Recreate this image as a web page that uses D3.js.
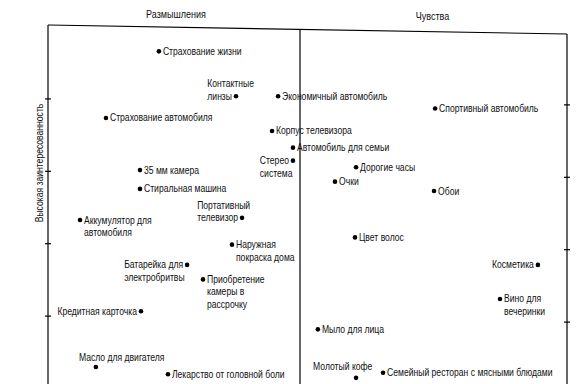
<!DOCTYPE html>
<html>
<head>
<meta charset="utf-8">
<script src="https://cdn.jsdelivr.net/npm/d3@7"></script>
<style>
  body { margin: 0; background: #fff; }
  svg text { font-family: "Liberation Sans Narrow", "Arial Narrow", "Liberation Sans", sans-serif; fill: #111; }
</style>
</head>
<body>
<div class="chart"></div>
<script>
var svgWidth = 579;
var svgHeight = 384;

// products (line breaks as in the picture)
var products = [
  "Страхование жизни",
  "Контактные\nлинзы",
  "Экономичный автомобиль",
  "Страхование автомобиля",
  "Спортивный автомобиль",
  "Корпус телевизора",
  "Автомобиль для семьи",
  "Стерео\nсистема",
  "35 мм камера",
  "Стиральная машина",
  "Дорогие часы",
  "Очки",
  "Обои",
  "Портативный\nтелевизор",
  "Аккумулятор для\nавтомобиля",
  "Цвет волос",
  "Наружная\nпокраска дома",
  "Батарейка для\nэлектробритвы",
  "Приобретение\nкамеры в\nрассрочку",
  "Косметика",
  "Кредитная карточка",
  "Вино для\nвечеринки",
  "Мыло для лица",
  "Масло для двигателя",
  "Лекарство от головной боли",
  "Молотый кофе",
  "Семейный ресторан с мясными блюдами"
];

// thinking (-) / feeling (+)
var feeling = [-5.6, -2.54, -0.87, -7.7, 5.06, -1.11, -0.28, -0.28, -6.35, -6.35,
  2.1, 1.31, 5.02, -2.3, -8.73, 2.06, -2.7, -4.48, -3.85, 8.91,
  -6.31, 7.49, 0.67, -8.1, -5.24, 2.1, 3.11];

// involvement (top = high)
var involvement = [4.65, 4.03, 4.03, 3.73, 3.86, 3.55, 3.32, 3.14, 3.01, 2.75,
  3.05, 2.85, 2.72, 2.35, 2.32, 2.08, 1.98, 1.70, 1.50, 1.70,
  1.06, 1.23, 0.81, 0.29, 0.19, 0.14, 0.21];

var yTicks = [1, 2, 3, 4];

// where each label sits relative to its dot
var labelSide = ["r", "l", "r", "r", "r", "r", "r", "l", "r", "r",
  "r", "r", "r", "l", "r", "r", "r", "l", "r", "l",
  "l", "r", "r", "t", "r", "t", "r"];
// which line of a label stands beside the dot
var dotLine = {1: 1, 13: 1};
// labels placed above their dot
var topOffset = {23: [-17, -6], 25: [-43, -8]};

var margin = {top: 25, right: 12, bottom: 0, left: 48};
var lineH = 12.5;
var squeeze = 0.86;   // the scan uses a condensed face

var svg = d3.select(".chart")
  .append("svg")
  .attr("width", svgWidth)
  .attr("height", svgHeight);

// text helper: condensed horizontally
function addText(parent, px, py, str, anchor, size, extra) {
  return parent.append("text")
    .attr("transform", `translate(${px},${py})${extra || ""} scale(${squeeze},1)`)
    .attr("text-anchor", anchor || "start")
    .attr("font-size", (size || 10) + "px")
    .text(str);
}

var x = d3.scaleLinear()
  .domain([-10, 0, 10])
  .range([margin.left, 300, svgWidth - margin.right]);

var y = d3.scaleLinear()
  .domain([5, 0])
  .range([26, 388]);

// frame: top border (slightly skewed like the scan), center divider, sides
var xl = x.range()[0], xr = x.range()[2], xc = x(0);
var topL = 25, topR = 34;
var topAt = function(px) { return topL + (topR - topL) * (px - xl) / (xr - xl); };

svg.append("line")
  .attr("x1", xl).attr("y1", topL)
  .attr("x2", xr).attr("y2", topR)
  .attr("stroke", "#000").attr("stroke-width", 1.2);

svg.append("line")
  .attr("x1", xc).attr("y1", topAt(xc))
  .attr("x2", xc).attr("y2", svgHeight)
  .attr("stroke", "#000").attr("stroke-width", 1.2);

// left axis
svg.append("g")
  .attr("transform", `translate(${xl},0)`)
  .call(d3.axisLeft(y).tickValues(yTicks).tickSize(3).tickFormat(""))
  .select(".domain").remove();
svg.append("g")
  .attr("transform", `translate(${xl},0)`)
  .call(d3.axisRight(y).tickValues(yTicks).tickSize(3).tickFormat(""))
  .select(".domain").remove();
svg.append("line")
  .attr("x1", xl).attr("y1", topL)
  .attr("x2", xl).attr("y2", svgHeight)
  .attr("stroke", "#000").attr("stroke-width", 1.2);

// right axis (ticks sit a bit lower on the skewed scan)
svg.append("g")
  .attr("transform", `translate(${xr},6)`)
  .call(d3.axisLeft(y).tickValues(yTicks).tickSize(3).tickFormat(""))
  .select(".domain").remove();
svg.append("g")
  .attr("transform", `translate(${xr},6)`)
  .call(d3.axisRight(y).tickValues(yTicks).tickSize(3).tickFormat(""))
  .select(".domain").remove();
svg.append("line")
  .attr("x1", xr).attr("y1", topR)
  .attr("x2", xr).attr("y2", svgHeight)
  .attr("stroke", "#000").attr("stroke-width", 1.2);

svg.selectAll(".tick line").attr("stroke", "#000").attr("stroke-width", 1.2);

// quadrant titles
addText(svg, (xl + xc) / 2 + 2, 18, "Размышления", "middle", 10.5);
addText(svg, (xc + xr) / 2 - 1, 20, "Чувства", "middle", 10.5);

// y axis title
addText(svg, 43, 163, "Высокая заинтересованность", "middle", 10, " rotate(-90)");

// points
var data = products.map(function(p, i) {
  return {name: p, fx: feeling[i], inv: involvement[i], side: labelSide[i], idx: i};
});

svg.selectAll("circle.pt")
  .data(data)
  .enter()
  .append("circle")
  .attr("class", "pt")
  .attr("cx", d => x(d.fx))
  .attr("cy", d => y(d.inv))
  .attr("r", 2.3)
  .attr("fill", "#000");

// labels
data.forEach(function(d) {
  var cx = x(d.fx), cy = y(d.inv);
  var lines = d.name.split("\n");
  var k = dotLine[d.idx] || 0;
  var g = svg.append("g");

  if (d.side === "t") {
    var off = topOffset[d.idx];
    addText(g, cx + off[0], cy + off[1], d.name);
    return;
  }

  if (d.side === "r") {
    lines.forEach(function(ln, j) {
      addText(g, cx + 4, cy + 3.5 + (j - k) * lineH, ln);
    });
  } else {
    // line beside the dot ends at the dot, the others share its left edge
    var main = addText(g, cx - 4, cy + 3.5, lines[k], "end");
    var left = cx - 4 - main.node().getComputedTextLength() * squeeze;
    lines.forEach(function(ln, j) {
      if (j === k) return;
      addText(g, left, cy + 3.5 + (j - k) * lineH, ln);
    });
  }
});
</script>
</body>
</html>
